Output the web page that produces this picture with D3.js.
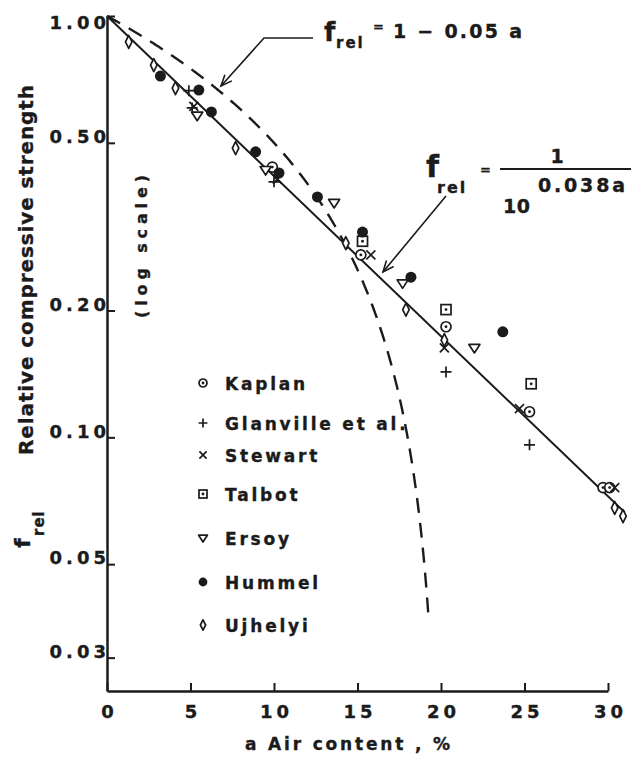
<!DOCTYPE html>
<html>
<head>
<meta charset="utf-8">
<script src="https://cdn.jsdelivr.net/npm/d3@7"></script>
<style>
  html, body { margin: 0; padding: 0; background: #fff; }
  svg { display: block; }
  text { font-family: "DejaVu Sans", "Liberation Sans", Arial, sans-serif; font-weight: bold;
         fill: #1b1b1b; stroke: #1b1b1b; stroke-width: 0.35px; }
</style>
</head>
<body>
<svg id="chart" width="631" height="760"></svg>
<script>
// Air content a (%) and relative compressive strength f_rel, one pair of arrays per investigator
const kaplanAir = [9.9, 15.2, 20.3, 25.3, 29.7, 30.1];
const kaplanStrength = [0.438, 0.271, 0.183, 0.115, 0.076, 0.076];

const glanvilleAir = [4.9, 5.1, 10.0, 20.3, 25.3];
const glanvilleStrength = [0.665, 0.605, 0.404, 0.143, 0.096];

const stewartAir = [5.2, 10.2, 15.8, 20.2, 24.7, 30.4];
const stewartStrength = [0.61, 0.41, 0.271, 0.163, 0.117, 0.076];

const talbotAir = [15.3, 20.3, 25.4];
const talbotStrength = [0.292, 0.201, 0.134];

const ersoyAir = [5.4, 9.5, 13.6, 17.7, 22.0];
const ersoyStrength = [0.58, 0.431, 0.36, 0.232, 0.163];

const hummelAir = [3.2, 5.5, 6.25, 8.9, 10.3, 12.6, 15.3, 18.2, 23.7];
const hummelStrength = [0.72, 0.667, 0.592, 0.476, 0.424, 0.372, 0.307, 0.24, 0.178];

const ujhelyiAir = [1.3, 2.8, 4.1, 7.7, 14.3, 17.9, 20.2, 30.4, 30.9];
const ujhelyiStrength = [0.868, 0.765, 0.674, 0.486, 0.289, 0.201, 0.17, 0.068, 0.065];

const seriesNames = ["Kaplan", "Glanville et al.", "Stewart", "Talbot", "Ersoy", "Hummel", "Ujhelyi"];

// Axis ticks
const xTicks = [0, 5, 10, 15, 20, 25, 30];
const xTickLabels = ["0", "5", "10", "15", "20", "25", "30"];
const yTicks = [1, 0.5, 0.2, 0.1, 0.05, 0.03];
const yTickLabels = ["1.00", "0.50", "0.20", "0.10", "0.05", "0.03"];

// The two relations written on the chart
const linearCoef = 0.05;   // f_rel = 1 - 0.05 a
const powerCoef = 0.038;   // f_rel = 1 / 10^(0.038 a)
const linearAirMax = 19.25;
const powerAirMax = 31;

// ---------------------------------------------------------------
const ink = "#1b1b1b";
const svg = d3.select("#chart");

const x = d3.scaleLinear().domain([0, 30]).range([107, 608]);
const y = d3.scaleLog().domain([0.025, 1]).range([691, 16]);

const series = [
  { air: kaplanAir, f: kaplanStrength, shape: "circleDot" },
  { air: glanvilleAir, f: glanvilleStrength, shape: "plus" },
  { air: stewartAir, f: stewartStrength, shape: "cross" },
  { air: talbotAir, f: talbotStrength, shape: "squareDot" },
  { air: ersoyAir, f: ersoyStrength, shape: "triangleDown" },
  { air: hummelAir, f: hummelStrength, shape: "dot" },
  { air: ujhelyiAir, f: ujhelyiStrength, shape: "diamond" }
].map((s, i) => ({ ...s, name: seriesNames[i] }));

function drawMarker(g, shape, s) {
  const sw = 1.7;
  if (shape === "circleDot") {
    g.append("circle").attr("r", s).attr("fill", "#fff").attr("stroke", ink).attr("stroke-width", sw);
    g.append("circle").attr("r", 1.4).attr("fill", ink);
  } else if (shape === "plus") {
    g.append("path").attr("d", `M${-s * 1.1},0H${s * 1.1}M0,${-s * 1.1}V${s * 1.1}`)
      .attr("stroke", ink).attr("stroke-width", sw).attr("fill", "none");
  } else if (shape === "cross") {
    const t = s * 0.9;
    g.append("path").attr("d", `M${-t},${-t}L${t},${t}M${-t},${t}L${t},${-t}`)
      .attr("stroke", ink).attr("stroke-width", sw).attr("fill", "none");
  } else if (shape === "squareDot") {
    g.append("rect").attr("x", -s).attr("y", -s).attr("width", 2 * s).attr("height", 2 * s)
      .attr("fill", "#fff").attr("stroke", ink).attr("stroke-width", sw);
    g.append("circle").attr("r", 1.4).attr("fill", ink);
  } else if (shape === "triangleDown") {
    g.append("path").attr("d", `M${-s * 1.1},${-s * 0.7}L${s * 1.1},${-s * 0.7}L0,${s * 1.0}Z`)
      .attr("fill", "#fff").attr("stroke", ink).attr("stroke-width", sw).attr("stroke-linejoin", "round");
  } else if (shape === "dot") {
    g.append("circle").attr("r", s * 1.1).attr("fill", ink);
  } else if (shape === "diamond") {
    g.append("path").attr("d", `M0,${-s * 1.3}L${s * 0.65},0L0,${s * 1.3}L${-s * 0.65},0Z`)
      .attr("fill", "#fff").attr("stroke", ink).attr("stroke-width", sw).attr("stroke-linejoin", "round");
  }
}

// ---- axes ----
const yAxis = d3.axisLeft(y).tickValues(yTicks)
  .tickFormat((d, i) => yTickLabels[i])
  .tickSizeInner(-8).tickSizeOuter(0).tickPadding(1);
const gy = svg.append("g").attr("transform", `translate(${x(0)},0)`).call(yAxis);

const xAxis = d3.axisBottom(x).tickValues(xTicks)
  .tickFormat((d, i) => xTickLabels[i])
  .tickSizeInner(-8).tickSizeOuter(0).tickPadding(14);
const gx = svg.append("g").attr("transform", `translate(0,${y.range()[0]})`).call(xAxis);

[gx, gy].forEach(g => {
  g.attr("font-size", null).attr("font-family", null);
  g.select(".domain").attr("stroke", ink).attr("stroke-width", 2.5);
  g.selectAll(".tick line").attr("stroke", ink).attr("stroke-width", 2);
  g.selectAll(".tick text").attr("fill", ink).style("font-size", "18px");
});
gy.selectAll(".tick text")
  .style("letter-spacing", "4px")
  .attr("dx", 4)
  .attr("y", d => d === 1 ? 7 : -6);
gx.selectAll(".tick text")
  .style("letter-spacing", "4px")
  .attr("dx", 2);

// ---- fitted relations ----
const linearPts = d3.range(0, linearAirMax, 0.05).concat([linearAirMax])
  .map(a => [a, 1 - linearCoef * a]);
const powerPts = [0, powerAirMax].map(a => [a, 1 / Math.pow(10, powerCoef * a)]);
const line = d3.line().x(d => x(d[0])).y(d => y(d[1]));

svg.append("path").attr("d", line(linearPts))
  .attr("fill", "none").attr("stroke", ink).attr("stroke-width", 2.4)
  .attr("stroke-dasharray", "15,10");
svg.append("path").attr("d", line(powerPts))
  .attr("fill", "none").attr("stroke", ink).attr("stroke-width", 2);

// ---- data points ----
series.forEach(s => {
  s.air.forEach((a, i) => {
    const g = svg.append("g").attr("transform", `translate(${x(a)},${y(s.f[i])})`);
    drawMarker(g, s.shape, 5);
  });
});

// ---- legend ----
const legendRowY = [383, 423, 455, 494, 538, 582, 625];
series.forEach((s, i) => {
  const g = svg.append("g").attr("transform", `translate(203,${legendRowY[i]})`);
  drawMarker(g, s.shape, 4);
  svg.append("text").attr("x", 225).attr("y", legendRowY[i] + 6.5)
    .style("font-size", "17px").style("letter-spacing", "2.8px").text(s.name);
});

// ---- axis titles ----
svg.append("text").attr("x", 245).attr("y", 750)
  .style("font-size", "17px").attr("textLength", 205).attr("lengthAdjust", "spacing")
  .text("a Air content , %");

const yt = svg.append("g");
yt.append("text").attr("transform", "translate(30,548) rotate(-90)")
  .style("font-size", "22px").text("f");
yt.append("text").attr("transform", "translate(44,536) rotate(-90)")
  .style("font-size", "15px").style("letter-spacing", "1px").text("rel");
yt.append("text").attr("transform", "translate(33,455) rotate(-90)")
  .style("font-size", "20px").attr("textLength", 370).attr("lengthAdjust", "spacing")
  .text("Relative compressive strength");
yt.append("text").attr("transform", "translate(147,318) rotate(-90)")
  .style("font-size", "16px").attr("textLength", 143).attr("lengthAdjust", "spacing")
  .text("(log scale)");

// ---- equation labels with leader arrows ----
function arrow(points) {
  svg.append("path").attr("d", d3.line()(points))
    .attr("fill", "none").attr("stroke", ink).attr("stroke-width", 1.6);
  const [tx, ty] = points[points.length - 1];
  const [px, py] = points[points.length - 2];
  const ang = Math.atan2(ty - py, tx - px);
  const len = 12, spread = 0.4;
  const b1 = [tx - len * Math.cos(ang - spread), ty - len * Math.sin(ang - spread)];
  const b2 = [tx - len * Math.cos(ang + spread), ty - len * Math.sin(ang + spread)];
  svg.append("path").attr("d", d3.line()([b1, [tx, ty], b2]))
    .attr("fill", "none").attr("stroke", ink).attr("stroke-width", 1.6);
}

// f_rel = 1 - 0.05 a
svg.append("text").attr("x", 324).attr("y", 41).style("font-size", "26px").text("f");
svg.append("text").attr("x", 336).attr("y", 48).style("font-size", "15px").style("letter-spacing", "2px").text("rel");
svg.append("text").attr("x", 373).attr("y", 31).style("font-size", "13px").text("=");
svg.append("text").attr("x", 393).attr("y", 38).style("font-size", "19px")
  .attr("textLength", 129).attr("lengthAdjust", "spacing").text("1 \u2212 0.05 a");
arrow([[313, 38], [264, 38], [221, 86]]);

// f_rel = 1 / 10^(0.038a)
svg.append("text").attr("x", 426).attr("y", 177).style("font-size", "30px").text("f");
svg.append("text").attr("x", 437).attr("y", 193).style("font-size", "16px").style("letter-spacing", "2px").text("rel");
svg.append("text").attr("x", 480).attr("y", 174).style("font-size", "13px").text("=");
svg.append("line").attr("x1", 500).attr("x2", 631).attr("y1", 169).attr("y2", 169)
  .attr("stroke", ink).attr("stroke-width", 2);
svg.append("text").attr("x", 557).attr("y", 163).attr("text-anchor", "middle").style("font-size", "19px").text("1");
svg.append("text").attr("x", 538).attr("y", 192).style("font-size", "19px")
  .attr("textLength", 87).attr("lengthAdjust", "spacing").text("0.038a");
svg.append("text").attr("x", 503).attr("y", 213).style("font-size", "19px")
  .attr("textLength", 27).attr("lengthAdjust", "spacing").text("10");
arrow([[446, 196], [383, 272]]);
</script>
</body>
</html>
